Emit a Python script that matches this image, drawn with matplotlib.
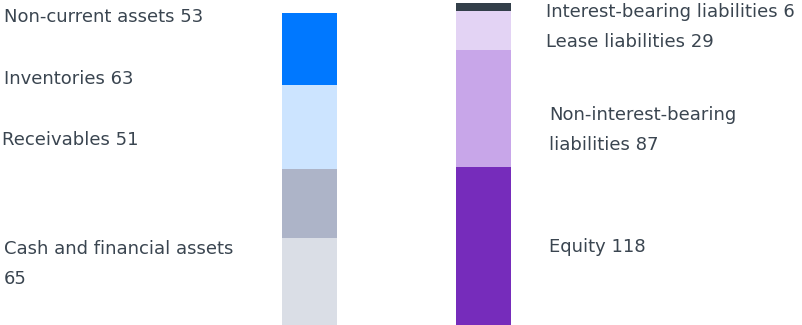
import matplotlib
matplotlib.use("Agg")
import matplotlib.pyplot as plt

assets_labels = ["Cash and financial assets\n65", "Receivables 51", "Inventories 63", "Non-current assets 53"]
assets_values = [65, 51, 63, 53]
assets_colors = ["#DADEE6", "#ADB4C8", "#CCE4FF", "#0078FF"]

liab_labels = ["Equity 118", "Non-interest-bearing\nliabilities 87", "Lease liabilities 29", "Interest-bearing liabilities 6"]
liab_values = [118, 87, 29, 6]
liab_colors = ["#762CBB", "#C8A6E9", "#E3D3F4", "#333F4A"]

W, H = 802, 325
fig = plt.figure(figsize=(W/100, H/100), dpi=100)
ax = fig.add_axes([0, 0, 1, 1])
ax.set_xlim(-1.779, 2.830)
ax.set_ylim(0, 325/1.343)
ax.axis("off")

bw = 0.316
bottom = 0
for v, c in zip(assets_values, assets_colors):
    ax.bar(0, v, width=bw, bottom=bottom, color=c, linewidth=0)
    bottom += v
bottom = 0
for v, c in zip(liab_values, liab_colors):
    ax.bar(1, v, width=bw, bottom=bottom, color=c, linewidth=0)
    bottom += v

tc = "#3A4550"
fs = 13.0
fam = ["DejaVu Sans"]
def lab(txt, px, py):
    fig.text(px/W, 1 - py/H, txt, ha="left", va="center", fontsize=fs, color=tc,
             family=fam, linespacing=1.92)

lab(assets_labels[3], 4, 17)
lab(assets_labels[2], 4, 79)
lab(assets_labels[1], 2, 140)
lab(assets_labels[0], 4, 264)
lab(liab_labels[3], 546, 12)
lab(liab_labels[2], 546, 42)
lab(liab_labels[1], 549, 130)
lab(liab_labels[0], 549, 247)

fig.savefig("out.png", dpi=100)
